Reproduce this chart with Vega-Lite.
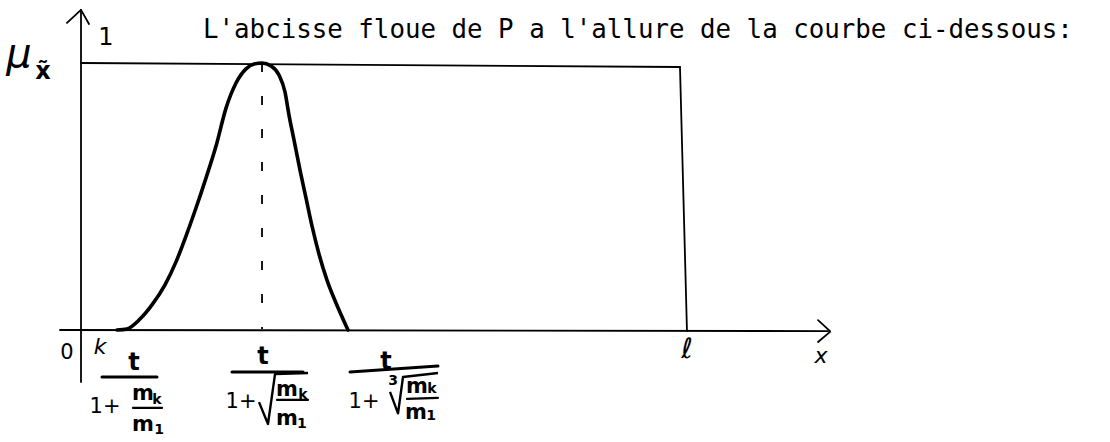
{
  "$schema": "https://vega.github.io/schema/vega-lite/v6.json",
  "width": 1110,
  "height": 442,
  "autosize": {"type": "none"},
  "padding": 0,
  "background": "white",
  "config": {"view": {"stroke": null}},
  "datasets": {
    "seg": [
      {"x": 0, "y": -0.195, "x2": 0, "y2": 1.199},
      {"x": -0.233, "y": 1.15, "x2": 0, "y2": 1.199},
      {"x": 0, "y": 1.199, "x2": 0.133, "y2": 1.146},
      {"x": -0.349, "y": 0, "x2": 12.409, "y2": -0.004},
      {"x": 12.243, "y": 0.037, "x2": 12.442, "y2": -0.004},
      {"x": 12.442, "y": -0.007, "x2": 12.243, "y2": -0.045},
      {"x": 0, "y": 1, "x2": 9.95, "y2": 0.985},
      {"x": 9.95, "y": 0.985, "x2": 10.066, "y2": -0.004}
    ],
    "dash": [
      {"x": 3.007, "y": 1, "x2": 3.007, "y2": 0.004}
    ],
    "bars": [
      {"x": 0.349, "y": -0.176, "x2": 1.262, "y2": -0.176, "w": "main"},
      {"x": 0.864, "y": -0.292, "x2": 1.346, "y2": -0.292, "w": "small"},
      {"x": 2.508, "y": -0.157, "x2": 3.688, "y2": -0.157, "w": "main"},
      {"x": 3.256, "y": -0.262, "x2": 3.771, "y2": -0.262, "w": "small"},
      {"x": 4.468, "y": -0.157, "x2": 5.93, "y2": -0.135, "w": "main"},
      {"x": 5.415, "y": -0.258, "x2": 5.93, "y2": -0.254, "w": "small"}
    ],
    "roots": [
      {"g": "r2", "o": 1, "x": 2.957, "y": -0.27},
      {"g": "r2", "o": 2, "x": 3.106, "y": -0.352},
      {"g": "r2", "o": 3, "x": 3.223, "y": -0.165},
      {"g": "r2", "o": 4, "x": 3.771, "y": -0.161},
      {"g": "r3", "o": 1, "x": 5.133, "y": -0.232},
      {"g": "r3", "o": 2, "x": 5.266, "y": -0.312},
      {"g": "r3", "o": 3, "x": 5.349, "y": -0.176},
      {"g": "r3", "o": 4, "x": 5.93, "y": -0.161}
    ],
    "curve": [
      {"x": 0.598, "y": 0},
      {"x": 0.764, "y": 0.004},
      {"x": 0.98, "y": 0.041},
      {"x": 1.179, "y": 0.094},
      {"x": 1.395, "y": 0.169},
      {"x": 1.578, "y": 0.255},
      {"x": 1.744, "y": 0.352},
      {"x": 1.91, "y": 0.457},
      {"x": 2.076, "y": 0.569},
      {"x": 2.243, "y": 0.689},
      {"x": 2.409, "y": 0.831},
      {"x": 2.575, "y": 0.925},
      {"x": 2.741, "y": 0.978},
      {"x": 2.874, "y": 0.996},
      {"x": 3.007, "y": 1.0},
      {"x": 3.156, "y": 0.989},
      {"x": 3.289, "y": 0.955},
      {"x": 3.389, "y": 0.891},
      {"x": 3.455, "y": 0.805},
      {"x": 3.538, "y": 0.712},
      {"x": 3.638, "y": 0.599},
      {"x": 3.738, "y": 0.494},
      {"x": 3.837, "y": 0.39},
      {"x": 3.953, "y": 0.285},
      {"x": 4.086, "y": 0.187},
      {"x": 4.236, "y": 0.101},
      {"x": 4.435, "y": 0}
    ],
    "title": [
      {"x": 2.027, "y": 1.094, "label": "L'abcisse floue de P a l'allure de la courbe ci-dessous:"}
    ],
    "labels": [
      {"x": 0.415, "y": 1.094, "label": "1", "role": "unit"},
      {"x": -1.03, "y": 1.03, "label": "μ", "role": "mu"},
      {"x": -0.631, "y": 0.966, "label": "x̃", "role": "xt"},
      {"x": -0.233, "y": -0.086, "label": "0", "role": "axis"},
      {"x": 0.316, "y": -0.064, "label": "k", "role": "axisit"},
      {"x": 10.066, "y": -0.075, "label": "ℓ", "role": "ell"},
      {"x": 12.292, "y": -0.097, "label": "x", "role": "axisit"},
      {"x": 0.88, "y": -0.124, "label": "t", "role": "num"},
      {"x": 0.399, "y": -0.288, "label": "1+", "role": "one"},
      {"x": 1.03, "y": -0.24, "label": "m", "role": "m"},
      {"x": 1.262, "y": -0.262, "label": "k", "role": "sub"},
      {"x": 1.03, "y": -0.356, "label": "m", "role": "m"},
      {"x": 1.296, "y": -0.375, "label": "1", "role": "sub"},
      {"x": 3.023, "y": -0.101, "label": "t", "role": "num"},
      {"x": 2.658, "y": -0.27, "label": "1+", "role": "one"},
      {"x": 3.422, "y": -0.225, "label": "m", "role": "m"},
      {"x": 3.688, "y": -0.243, "label": "k", "role": "sub"},
      {"x": 3.422, "y": -0.333, "label": "m", "role": "m"},
      {"x": 3.671, "y": -0.352, "label": "1", "role": "sub"},
      {"x": 5.066, "y": -0.12, "label": "t", "role": "num"},
      {"x": 4.701, "y": -0.27, "label": "1+", "role": "one"},
      {"x": 5.183, "y": -0.191, "label": "3", "role": "sub"},
      {"x": 5.581, "y": -0.213, "label": "m", "role": "m"},
      {"x": 5.831, "y": -0.222, "label": "k", "role": "sub"},
      {"x": 5.565, "y": -0.31, "label": "m", "role": "m"},
      {"x": 5.814, "y": -0.322, "label": "1", "role": "sub"}
    ]
  },
  "encoding": {
    "x": {"field": "x", "type": "quantitative", "scale": {"domain": [-1.34551, 17.09302], "nice": false, "zero": false}, "axis": null},
    "y": {"field": "y", "type": "quantitative", "scale": {"domain": [-0.41948, 1.23596], "nice": false, "zero": false}, "axis": null}
  },
  "layer": [
    {
      "data": {"name": "seg"},
      "mark": {"type": "rule", "color": "black", "strokeWidth": 1.8, "strokeCap": "round"},
      "encoding": {"x2": {"field": "x2"}, "y2": {"field": "y2"}}
    },
    {
      "data": {"name": "dash"},
      "mark": {"type": "rule", "color": "black", "strokeWidth": 1.8, "strokeDash": [9, 24]},
      "encoding": {"x2": {"field": "x2"}, "y2": {"field": "y2"}}
    },
    {
      "data": {"name": "bars"},
      "transform": [{"filter": "datum.w === 'main'"}],
      "mark": {"type": "rule", "color": "black", "strokeCap": "round", "strokeWidth": 3},
      "encoding": {"x2": {"field": "x2"}, "y2": {"field": "y2"}}
    },
    {
      "data": {"name": "bars"},
      "transform": [{"filter": "datum.w === 'small'"}],
      "mark": {"type": "rule", "color": "black", "strokeCap": "round", "strokeWidth": 2.2},
      "encoding": {"x2": {"field": "x2"}, "y2": {"field": "y2"}}
    },
    {
      "data": {"name": "roots"},
      "mark": {"type": "line", "color": "black", "strokeWidth": 2.4, "strokeJoin": "round"},
      "encoding": {"detail": {"field": "g"}, "order": {"field": "o", "type": "quantitative"}}
    },
    {
      "data": {"name": "curve"},
      "mark": {"type": "line", "color": "black", "strokeWidth": 3.6, "interpolate": "monotone", "strokeCap": "round"},
      "encoding": {"order": {"field": "x", "type": "quantitative"}}
    },
    {
      "data": {"name": "title"},
      "mark": {"type": "text", "font": "DejaVu Sans Mono", "fontSize": 25.8, "align": "left", "baseline": "alphabetic", "color": "black"},
      "encoding": {"text": {"field": "label"}}
    },
    {
      "data": {"name": "labels"},
      "transform": [{"filter": "datum.role === 'unit'"}],
      "mark": {"type": "text", "font": "DejaVu Sans", "fontSize": 24, "align": "center", "baseline": "middle", "color": "black"},
      "encoding": {"text": {"field": "label"}}
    },
    {
      "data": {"name": "labels"},
      "transform": [{"filter": "datum.role === 'mu'"}],
      "mark": {"type": "text", "font": "DejaVu Sans", "fontSize": 40, "fontStyle": "italic", "align": "center", "baseline": "middle", "color": "black"},
      "encoding": {"text": {"field": "label"}}
    },
    {
      "data": {"name": "labels"},
      "transform": [{"filter": "datum.role === 'xt'"}],
      "mark": {"type": "text", "font": "DejaVu Sans", "fontSize": 24, "fontWeight": "bold", "align": "center", "baseline": "middle", "color": "black"},
      "encoding": {"text": {"field": "label"}}
    },
    {
      "data": {"name": "labels"},
      "transform": [{"filter": "datum.role === 'axis'"}],
      "mark": {"type": "text", "font": "DejaVu Sans", "fontSize": 21, "align": "center", "baseline": "middle", "color": "black"},
      "encoding": {"text": {"field": "label"}}
    },
    {
      "data": {"name": "labels"},
      "transform": [{"filter": "datum.role === 'axisit'"}],
      "mark": {"type": "text", "font": "DejaVu Sans", "fontSize": 22, "fontStyle": "italic", "align": "center", "baseline": "middle", "color": "black"},
      "encoding": {"text": {"field": "label"}}
    },
    {
      "data": {"name": "labels"},
      "transform": [{"filter": "datum.role === 'ell'"}],
      "mark": {"type": "text", "font": "DejaVu Sans", "fontSize": 28, "align": "center", "baseline": "middle", "color": "black"},
      "encoding": {"text": {"field": "label"}}
    },
    {
      "data": {"name": "labels"},
      "transform": [{"filter": "datum.role === 'num'"}],
      "mark": {"type": "text", "font": "DejaVu Sans", "fontSize": 24, "fontWeight": "bold", "align": "center", "baseline": "middle", "color": "black"},
      "encoding": {"text": {"field": "label"}}
    },
    {
      "data": {"name": "labels"},
      "transform": [{"filter": "datum.role === 'one'"}],
      "mark": {"type": "text", "font": "DejaVu Sans", "fontSize": 21, "align": "center", "baseline": "middle", "color": "black"},
      "encoding": {"text": {"field": "label"}}
    },
    {
      "data": {"name": "labels"},
      "transform": [{"filter": "datum.role === 'm'"}],
      "mark": {"type": "text", "font": "DejaVu Sans", "fontSize": 21, "fontWeight": "bold", "align": "center", "baseline": "middle", "color": "black"},
      "encoding": {"text": {"field": "label"}}
    },
    {
      "data": {"name": "labels"},
      "transform": [{"filter": "datum.role === 'sub'"}],
      "mark": {"type": "text", "font": "DejaVu Sans", "fontSize": 14, "fontWeight": "bold", "align": "center", "baseline": "middle", "color": "black"},
      "encoding": {"text": {"field": "label"}}
    }
  ]
}
